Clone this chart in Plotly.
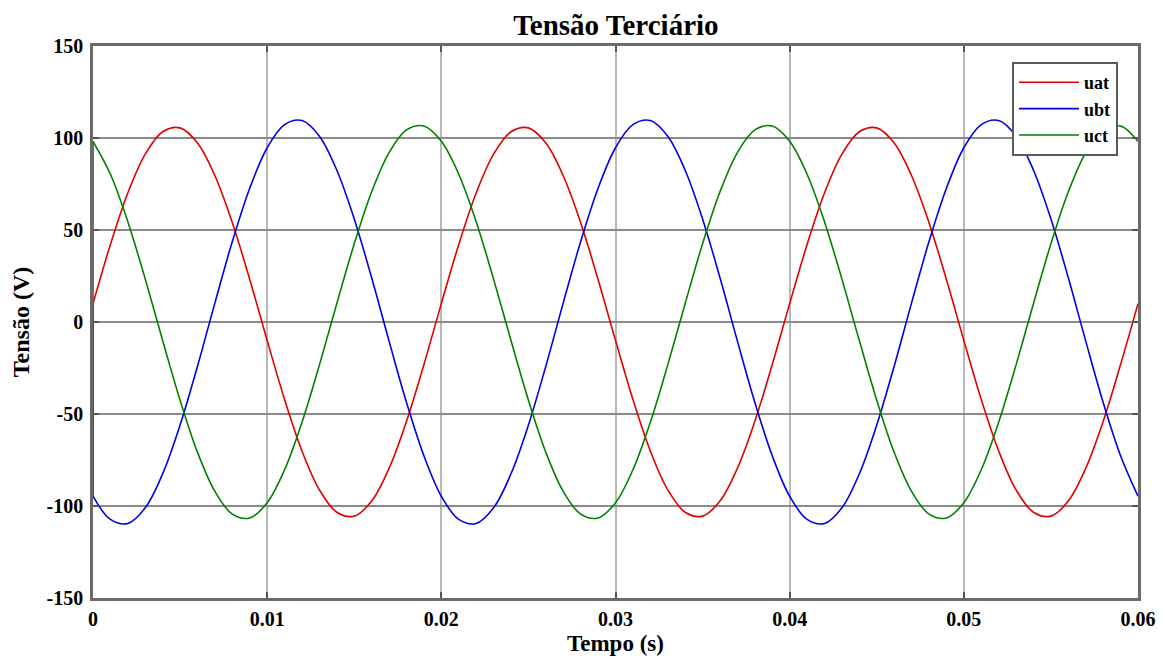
import plotly.graph_objects as go

# Sample times (s), 1 ms step over three cycles of 50 Hz
t = [round(i * 0.001, 3) for i in range(61)]

# One cycle (20 samples) of each tertiary phase voltage, in volts
uat_cycle = [10.0, 42.1, 70.1, 91.2, 103.4, 105.5, 97.3, 79.5, 54.0, 23.1,
             -10.0, -42.1, -70.1, -91.2, -103.4, -105.5, -97.3, -79.5, -54.0, -23.1]
ubt_cycle = [-94.7, -107.3, -109.5, -101.0, -82.5, -56.0, -24.0, 10.4, 43.7, 72.7,
             94.7, 107.3, 109.5, 101.0, 82.5, 56.0, 24.0, -10.4, -43.7, -72.7]
uct_cycle = [98.2, 80.3, 54.5, 23.3, -10.1, -42.5, -70.8, -92.1, -104.4, -106.5,
             -98.2, -80.3, -54.5, -23.3, 10.1, 42.5, 70.8, 92.1, 104.4, 106.5]

uat = (uat_cycle * 3) + [uat_cycle[0]]
ubt = (ubt_cycle * 3) + [ubt_cycle[0]]
uct = (uct_cycle * 3) + [uct_cycle[0]]

# Value of every phase at the very first instant, before the step
u_initial = 0.0

# Tick positions and labels
x_ticks = [0, 0.01, 0.02, 0.03, 0.04, 0.05, 0.06]
x_ticklabels = ["0", "0.01", "0.02", "0.03", "0.04", "0.05", "0.06"]
y_ticks = [-150, -100, -50, 0, 50, 100, 150]
y_ticklabels = ["-150", "-100", "-50", "0", "50", "100", "150"]

names = ["uat", "ubt", "uct"]
colors = ["#e00000", "#0000e6", "#008000"]
series = [uat, ubt, uct]

FONT = "Times New Roman, Liberation Serif, serif"

fig = go.Figure()
for name, color, ys in zip(names, colors, series):
    fig.add_trace(go.Scatter(
        x=t, y=ys, name=name, mode="lines",
        line=dict(color=color, width=1.6, shape="spline", smoothing=1.0),
    ))
# Initial step from zero to the first sample
for name, color, ys in zip(names, colors, series):
    fig.add_trace(go.Scatter(
        x=[t[0], t[0]], y=[u_initial, ys[0]], mode="lines",
        line=dict(color=color, width=1.6), showlegend=False, hoverinfo="skip",
    ))

axis_common = dict(
    showline=True, linecolor="#6a6a6a", linewidth=2.5, mirror="ticks",
    ticks="inside", ticklen=6, tickwidth=2, tickcolor="#555555",
    zeroline=False, automargin=False,
    tickfont=dict(family=FONT, size=20, color="black", weight="bold"),
    title_font=dict(family=FONT, size=24, color="black", weight="bold"),
)

fig.update_xaxes(
    range=[0, 0.06], tickvals=x_ticks, ticktext=x_ticklabels,
    showgrid=True, gridcolor="#b8b8b8", gridwidth=2,
    ticklabelstandoff=1,
    **axis_common,
)
fig.update_yaxes(
    range=[-150, 150], tickvals=y_ticks, ticktext=y_ticklabels,
    showgrid=True, gridcolor="#8a8a8a", gridwidth=1.5,
    title_text="Tensão (V)", title_standoff=11, ticklabelstandoff=3,
    **axis_common,
)

# x-axis title placed just under the tick labels
fig.add_annotation(
    text="Tempo (s)", xref="paper", yref="paper", x=0.5, y=-0.0833,
    xanchor="center", yanchor="middle", showarrow=False,
    font=dict(family=FONT, size=23, color="black", weight="bold"),
)

fig.update_layout(
    width=1162, height=664,
    margin=dict(l=93, r=24, t=46, b=66),
    paper_bgcolor="white", plot_bgcolor="white",
    title=dict(text="Tensão Terciário", x=0.53, xanchor="center", y=0.962, yanchor="middle",
               font=dict(family=FONT, size=29, color="black", weight="bold")),
    legend=dict(
        x=0.8794, y=0.971, xanchor="left", yanchor="top",
        bgcolor="white", bordercolor="#5a5a5a", borderwidth=2,
        font=dict(family=FONT, size=18, color="black", weight="bold"),
        itemwidth=60, tracegroupgap=0,
    ),
    showlegend=True,
)

fig.write_html("out.html")
